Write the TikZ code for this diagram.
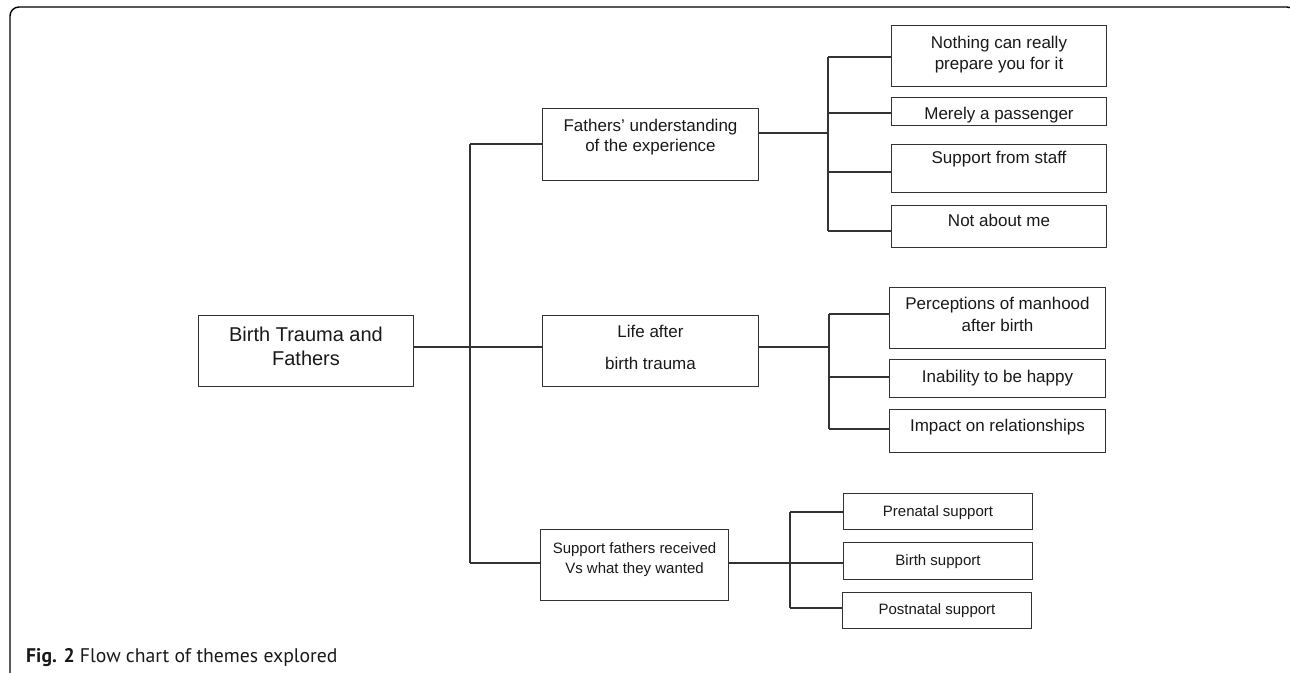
\documentclass[tikz,border=0pt]{standalone}
\usepackage{fontspec}
\setmainfont{Liberation Sans}
\newfontfamily\capfont{PT Sans}
\begin{document}
\begin{tikzpicture}[x=1pt,y=-1pt,
  box/.style={draw=black!80,line width=1pt,anchor=north west,inner sep=0pt,minimum width=#1},
  txt/.style={anchor=north,align=center,inner sep=0pt,text=black!90,font=\fontsize{17}{20}\selectfont},
  small/.style={font=\fontsize{15}{20}\selectfont},
  link/.style={draw=black!80,line width=1.2pt}]
\useasboundingbox (0,0) rectangle (1290,672);
\draw[line width=1.4pt,rounded corners=9pt] (40,700) -- (10,700) -- (10,7) -- (1296,7) -- (1296,60);
% root
\node[box=215,minimum height=71] (root) at (198,315) {};
\node[txt,font=\fontsize{20}{24}\selectfont] (roott) at (root.north |- 0,327) {Birth Trauma and\\Fathers};
% mid boxes
\node[box=216,minimum height=72] (m1) at (542,108) {};
\node[txt] (m1t) at (m1.north |- 0,119) {Fathers’ understanding\\of the experience};
\node[box=216,minimum height=71] (m2) at (542,315) {};
\node[txt] (m2t) at (m2.north |- 0,325) {Life after\\[12pt]birth trauma};
\node[box=188,minimum height=71] (m3) at (540,529) {};
\node[txt,small] (m3t) at (m3.north |- 0,542) {Support fathers received\\Vs what they wanted};
% group 1
\node[box=215,minimum height=61] (a) at (891,25) {};
\node[txt] (at) at (a.north |- 0,36) {Nothing can really\\[1pt]prepare you for it};
\node[box=215,minimum height=28] (b) at (891,97) {};
\node[txt] (bt) at (b.north |- 0,107) {Merely a passenger};
\node[box=215,minimum height=48] (c) at (891,144) {};
\node[txt] (ct) at (c.north |- 0,151) {Support from staff};
\node[box=215,minimum height=42] (d) at (891,205) {};
\node[txt] (dt) at (d.north |- 0,214) {Not about me};
% group 2
\node[box=216,minimum height=61] (e) at (889,287) {};
\node[txt] (et) at (e.north |- 0,297) {Perceptions of manhood\\[2pt]after birth};
\node[box=216,minimum height=38] (f) at (889,359) {};
\node[txt] (ft) at (f.north |- 0,370) {Inability to be happy};
\node[box=216,minimum height=43] (g) at (889,409) {};
\node[txt] (gt) at (g.north |- 0,419) {Impact on relationships};
% group 3
\node[box=189,minimum height=36] (h) at (843,493) {};
\node[txt,small] (ht) at (h.north |- 0,505) {Prenatal support};
\node[box=189,minimum height=37] (i) at (843,542) {};
\node[txt,small] (it) at (i.north |- 0,554) {Birth support};
\node[box=189,minimum height=36] (j) at (842,592) {};
\node[txt,small] (jt) at (j.north |- 0,603) {Postnatal support};
% trunk
\coordinate (t1) at (470,144);
\coordinate (t2) at (470,347);
\coordinate (t3) at (470,563);
\draw[link] (t1) -- (t3);
\draw[link] (root.east |- t2) -- (t2);
\draw[link] (t1) -- (m1.west |- t1);
\draw[link] (t2) -- (m2.west |- t2);
\draw[link] (t3) -- (m3.west |- t3);
% branch 1
\coordinate (p1) at (828,133);
\coordinate (ca) at (828,57);
\coordinate (cb) at (828,113);
\coordinate (cc) at (828,172);
\coordinate (cd) at (828,231);
\draw[link] (m1.east |- p1) -- (p1);
\draw[link] (ca) -- (cd);
\draw[link] (ca) -- (a.west |- ca);
\draw[link] (cb) -- (b.west |- cb);
\draw[link] (cc) -- (c.west |- cc);
\draw[link] (cd) -- (d.west |- cd);
% branch 2
\coordinate (p2) at (829,347);
\coordinate (ce) at (829,314);
\coordinate (cf) at (829,377);
\coordinate (cg) at (829,429);
\draw[link] (m2.east |- p2) -- (p2);
\draw[link] (ce) -- (cg);
\draw[link] (ce) -- (e.west |- ce);
\draw[link] (cf) -- (f.west |- cf);
\draw[link] (cg) -- (g.west |- cg);
% branch 3
\coordinate (p3) at (790,563);
\coordinate (ch) at (790,512);
\coordinate (cj) at (790,608);
\draw[link] (m3.east |- p3) -- (p3);
\draw[link] (ch) -- (cj);
\draw[link] (ch) -- (h.west |- ch);
\draw[link] (p3) -- (i.west |- p3);
\draw[link] (cj) -- (j.west |- cj);
% caption
\node[anchor=base west,inner sep=0pt,font=\capfont\fontsize{19.7}{22}\selectfont,text=black!90] (cap) at (26,662) {\textbf{Fig. 2} Flow chart of themes explored};
\end{tikzpicture}
\end{document}
